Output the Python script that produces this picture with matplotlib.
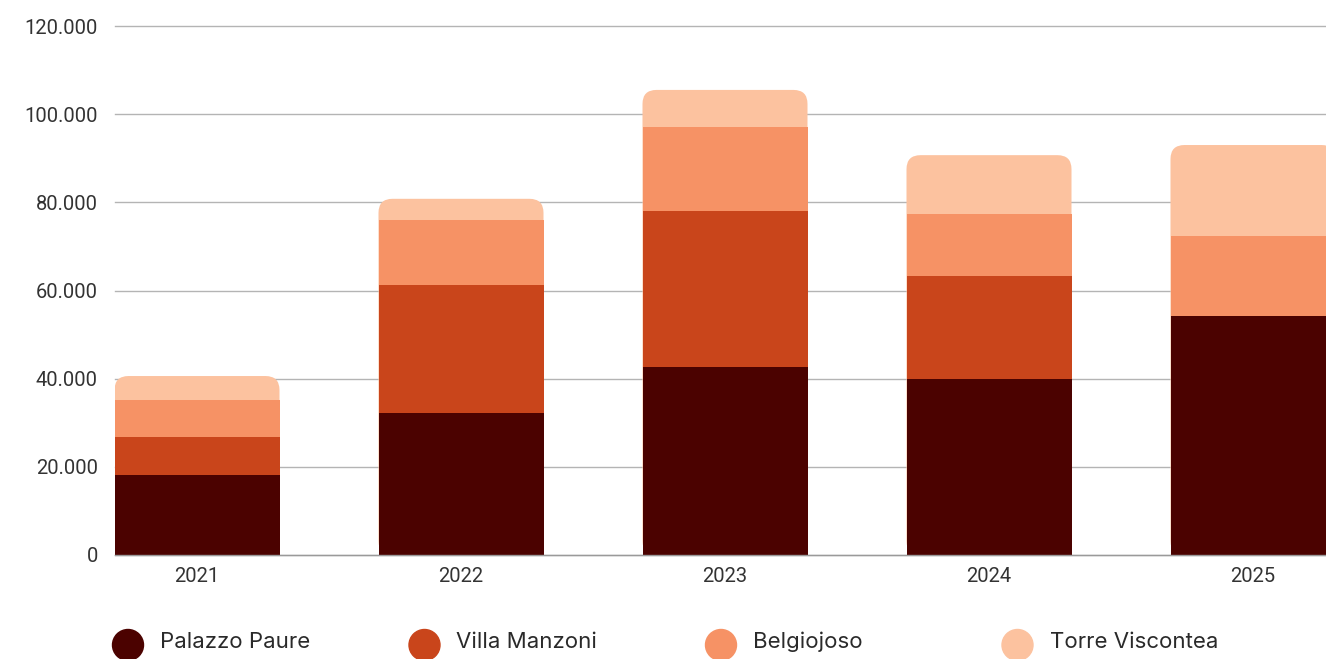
import matplotlib
matplotlib.use("Agg")
import matplotlib.pyplot as plt
from matplotlib.patches import FancyBboxPatch, Ellipse
from matplotlib.ticker import FuncFormatter

# data
years = ["2021", "2022", "2023", "2024", "2025"]
palazzo = [18100, 32200, 42700, 39900, 54200]
villa = [8700, 29000, 35400, 23400, 0]
belgiojoso = [8400, 14800, 19000, 14100, 18200]
torre = [5400, 4800, 8400, 13300, 20600]

names = ["Palazzo Paure", "Villa Manzoni", "Belgiojoso", "Torre Viscontea"]
colors = ["#4b0200", "#c9451b", "#f69265", "#fcc29f"]

W, H = 1326, 659
fig = plt.figure(figsize=(W / 100, H / 100), dpi=100)
ax = fig.add_axes([114.5 / W, 1 - 555 / H, (W - 114.5) / W, (555 - 26) / H])

bw = 0.625
x = list(range(len(years)))
ax.set_xlim(-bw / 2, -bw / 2 + (W - 114.5) / 264)
ax.set_ylim(0, 120000)

# pixel -> data scale, for rounded top corners
px_x = (W - 114.5) / (ax.get_xlim()[1] - ax.get_xlim()[0])
px_y = (555 - 26) / 120000
r = 14 / px_x
aspect = (14 / px_y) / r

series = [palazzo, villa, belgiojoso, torre]
totals = [sum(v) for v in zip(*series)]

# full-height rounded box in the top colour, lower segments drawn on top
for xi, tot in zip(x, totals):
    p = FancyBboxPatch((xi - bw / 2, 0), bw, tot,
                       boxstyle="round,pad=0,rounding_size=%f" % r,
                       mutation_aspect=aspect, fc=colors[3], ec="none", zorder=2)
    ax.add_patch(p)

bottom = [0] * len(years)
for vals, c in zip(series[:3], colors[:3]):
    ax.bar(x, vals, bw, bottom=bottom, color=c, zorder=3, linewidth=0)
    bottom = [b + v for b, v in zip(bottom, vals)]

ax.set_yticks(range(0, 120001, 20000))
ax.yaxis.set_major_formatter(FuncFormatter(lambda v, p: f"{int(v):,}".replace(",", ".")))
ax.set_xticks(x)
ax.set_xticklabels(years)
ax.grid(axis="y", color="#b4b4b4", linewidth=1, zorder=0)
for gl in ax.get_ygridlines():
    gl.set_clip_on(False)
ax.axhline(0, color="#9a9a9a", linewidth=1, zorder=4, clip_on=False)
ax.set_axisbelow(True)
for s in ax.spines.values():
    s.set_visible(False)
ax.tick_params(length=0, labelsize=14.5, labelcolor="#333333")
ax.tick_params(axis="y", pad=12)
ax.tick_params(axis="x", pad=9)
for lab in ax.get_xticklabels() + ax.get_yticklabels():
    lab.set_fontfamily("Roboto")

# legend, evenly spaced
for i, (n, c) in enumerate(zip(names, colors)):
    cx = 128 + i * 296.5
    fig.add_artist(Ellipse((cx / W, 1 - 645 / H), 31 / W, 31 / H, color=c,
                           transform=fig.transFigure))
    fig.text((cx + 32) / W, 1 - 642 / H, n, fontsize=16, color="#2a2a2a",
             family="Inter", va="center", ha="left")

fig.savefig("out.png", dpi=100)
